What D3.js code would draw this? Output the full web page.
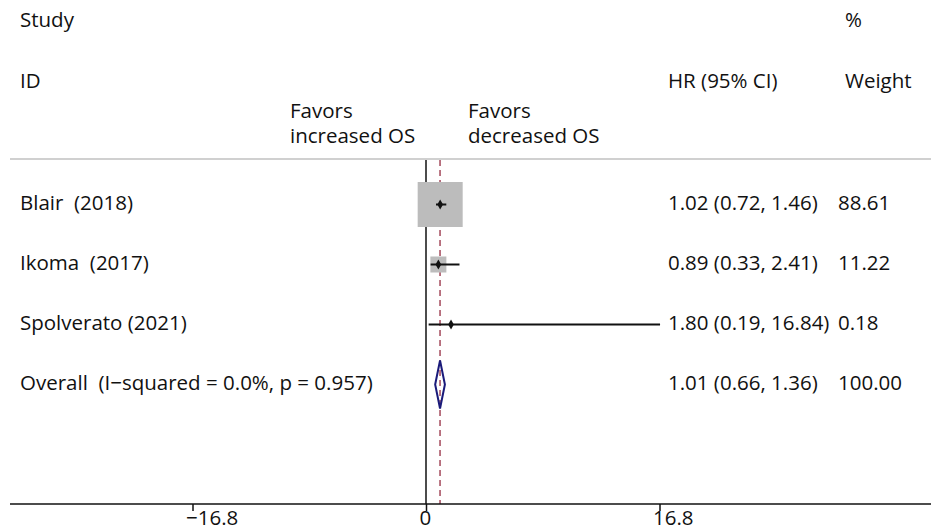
<!DOCTYPE html>
<html>
<head>
    <meta charset="utf-8">
    <title>Forest plot</title>
    <style type="text/css">
        body{
            margin: 0;
            background-color: #fff;
        }
        svg{
            display: block;
        }
        text{
            font-family: "Open Sans", sans-serif;
            font-size: 20.5px;
            fill: #111;
            white-space: pre;
        }
        .axis path, .axis line{
            stroke: #111;
            stroke-width: 1.5px;
        }
    </style>
    <script type="text/javascript" src="https://cdn.jsdelivr.net/npm/d3@7"></script>
</head>
<body>

    <div id="chart"></div>

    <script type="text/javascript">
        var studies = ['Blair  (2018)', 'Ikoma  (2017)', 'Spolverato (2021)'];
        var hr = [1.02, 0.89, 1.80];
        var lower = [0.72, 0.33, 0.19];
        var upper = [1.46, 2.41, 16.84];
        var weights = [88.61, 11.22, 0.18];
        var hrLabels = ['1.02 (0.72, 1.46)', '0.89 (0.33, 2.41)', '1.80 (0.19, 16.84)'];
        var weightLabels = ['88.61', '11.22', '0.18'];

        var overallLabel = 'Overall  (I\u2212squared = 0.0%, p = 0.957)';
        var overall = {est: 1.01, lo: 0.66, hi: 1.36};
        var overallHr = '1.01 (0.66, 1.36)';
        var overallWeight = '100.00';

        var tickValues = [-16.8, 0, 16.8];
        var tickLabels = ['\u221216.8', '0', '16.8'];

        var width = 931, height = 530;
        var plotTop = 159, axisY = 504;

        var svg = d3.select('#chart')
            .append('svg')
            .attr('width', width)
            .attr('height', height);

        var xScale = d3.scaleLinear()
            .domain([-16.8, 16.8])
            .range([192.5, 659.5]);

        var yScale = d3.scaleLinear()
            .domain([0, 3])
            .range([204.5, 384.5]);

        var sizeScale = d3.scaleSqrt()
            .domain([0, d3.max(weights)])
            .range([0, 45]);

        // header texts
        var header = [
            {t: 'Study', x: 20, y: 27},
            {t: 'ID', x: 20, y: 88},
            {t: '%', x: 845, y: 27},
            {t: 'Weight', x: 845, y: 88},
            {t: 'HR (95% CI)', x: 668, y: 88}
        ];
        svg.selectAll('.header')
            .data(header)
            .enter()
            .append('text')
            .attr('class', 'header')
            .attr('x', function(d){ return d.x; })
            .attr('y', function(d){ return d.y; })
            .text(function(d){ return d.t; });

        // favours labels, two lines each
        var favors = [
            {lines: ['Favors', 'increased OS'], x: 290},
            {lines: ['Favors', 'decreased OS'], x: 468}
        ];
        svg.selectAll('.favors')
            .data(favors)
            .enter()
            .append('text')
            .attr('class', 'favors')
            .attr('y', 118)
            .each(function(d){
                var t = d3.select(this);
                d.lines.forEach(function(l, i){
                    t.append('tspan')
                        .attr('x', d.x)
                        .attr('dy', i == 0 ? 0 : 25)
                        .text(l);
                });
            });

        // top rule
        svg.append('line')
            .attr('x1', 10).attr('x2', width)
            .attr('y1', plotTop).attr('y2', plotTop)
            .attr('stroke', '#d0d0d0')
            .attr('stroke-width', 2);

        // null line and overall effect line
        svg.append('line')
            .attr('x1', xScale(0)).attr('x2', xScale(0))
            .attr('y1', plotTop + 1).attr('y2', axisY)
            .attr('stroke', '#111')
            .attr('stroke-width', 1.5);

        svg.append('line')
            .attr('x1', xScale(overall.est)).attr('x2', xScale(overall.est))
            .attr('y1', plotTop + 1).attr('y2', axisY)
            .attr('stroke', '#a3475a')
            .attr('stroke-width', 1.5)
            .attr('stroke-dasharray', '6,4');

        var data = studies.map(function(s, i){
            return {name: s, hr: hr[i], lo: lower[i], hi: upper[i], w: weights[i],
                    hrLabel: hrLabels[i], wLabel: weightLabels[i], row: i};
        });

        // weight boxes
        svg.selectAll('.box')
            .data(data)
            .enter()
            .append('rect')
            .attr('class', 'box')
            .attr('x', function(d){ return xScale(d.hr) - sizeScale(d.w) / 2; })
            .attr('y', function(d){ return yScale(d.row) - sizeScale(d.w) / 2; })
            .attr('width', function(d){ return sizeScale(d.w); })
            .attr('height', function(d){ return sizeScale(d.w); })
            .attr('fill', '#bcbcbc');

        // confidence intervals
        svg.selectAll('.ci')
            .data(data)
            .enter()
            .append('line')
            .attr('class', 'ci')
            .attr('x1', function(d){ return xScale(d.lo); })
            .attr('x2', function(d){ return xScale(d.hi); })
            .attr('y1', function(d){ return yScale(d.row); })
            .attr('y2', function(d){ return yScale(d.row); })
            .attr('stroke', '#111')
            .attr('stroke-width', 2);

        // point estimates
        svg.selectAll('.dot')
            .data(data)
            .enter()
            .append('path')
            .attr('class', 'dot')
            .attr('d', d3.symbol().type(d3.symbolDiamond).size(28))
            .attr('transform', function(d){
                return 'translate(' + xScale(d.hr) + ',' + yScale(d.row) + ')';
            })
            .attr('fill', '#111');

        // overall diamond
        var oy = yScale(3);
        svg.append('path')
            .attr('d', 'M' + xScale(overall.lo) + ',' + oy +
                       'L' + xScale(overall.est) + ',' + (oy - 24) +
                       'L' + xScale(overall.hi) + ',' + oy +
                       'L' + xScale(overall.est) + ',' + (oy + 24) + 'Z')
            .attr('fill', 'none')
            .attr('stroke', '#1a1a7a')
            .attr('stroke-width', 2);

        // row texts
        var rows = data.concat([{name: overallLabel, hrLabel: overallHr, wLabel: overallWeight, row: 3}]);
        var rowG = svg.selectAll('.row')
            .data(rows)
            .enter()
            .append('g')
            .attr('class', 'row')
            .attr('transform', function(d){ return 'translate(0,' + (yScale(d.row) + 5) + ')'; });

        rowG.append('text').attr('x', 20).text(function(d){ return d.name; });
        rowG.append('text').attr('x', 668).text(function(d){ return d.hrLabel; });
        rowG.append('text').attr('x', 838).text(function(d){ return d.wLabel; });

        // x axis
        var xAxis = d3.axisBottom(xScale)
            .tickValues(tickValues)
            .tickSize(7)
            .tickSizeOuter(0)
            .tickFormat(function(d, i){ return tickLabels[i]; });

        var xAxisG = svg.append('g')
            .attr('class', 'axis')
            .attr('transform', 'translate(0,' + axisY + ')')
            .call(xAxis);

        xAxisG.select('.domain').remove();
        xAxisG.insert('line', ':first-child')
            .attr('x1', 10).attr('x2', width)
            .attr('stroke', '#111')
            .attr('stroke-width', 1.5);

        xAxisG.selectAll('text')
            .attr('text-anchor', 'start')
            .attr('dx', '-7px')
            .attr('y', 5)
            .attr('dy', '0.8em')
            .style('font-size', '20.5px')
            .attr('fill', '#111');
    </script>

</body>
</html>
